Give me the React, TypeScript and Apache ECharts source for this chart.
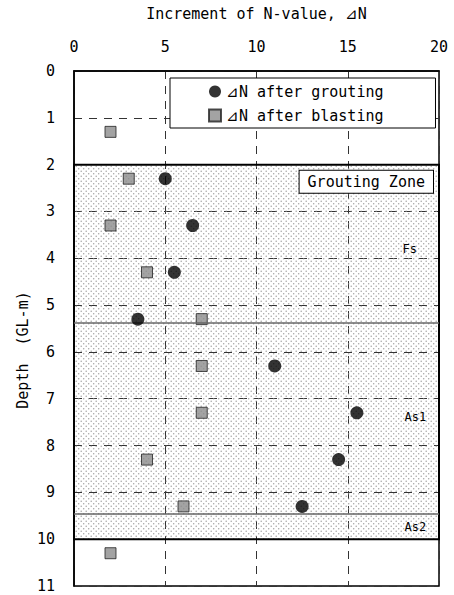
import React, { useEffect, useRef } from "react";
import * as echarts from "echarts";

// ---- data ----
const groutDepths = [2.3, 3.3, 4.3, 5.3, 6.3, 7.3, 8.3, 9.3];
const groutValues = [5, 6.5, 5.5, 3.5, 11, 15.5, 14.5, 12.5];
const blastDepths = [1.3, 2.3, 3.3, 4.3, 5.3, 6.3, 7.3, 8.3, 9.3, 10.3];
const blastValues = [2, 3, 2, 4, 7, 7, 7, 4, 6, 2];
const seriesNames = ["⊿N after grouting", "⊿N after blasting"];
const zoneRange = [2, 10];
const zoneLabel = "Grouting Zone";
const layerBoundaries = [5.38, 9.45];
const layerNames = ["Fs", "As1", "As2"];
const layerLabelDepths = [3.8, 7.4, 9.75];
const layerLabelX = [18.4, 18.7, 18.7];
const xTitle = "Increment of N-value, ⊿N";
const yTitle = "Depth  (GL-m)";
const xMin = 0, xMax = 20, xInterval = 5;
const yMin = 0, yMax = 11, yInterval = 1;

const FONT = "DejaVu Sans Mono";

function makeDotPattern(): HTMLCanvasElement {
  const c = document.createElement("canvas");
  c.width = 5;
  c.height = 5;
  const ctx = c.getContext("2d")!;
  ctx.fillStyle = "rgba(140,140,140,0.8)";
  ctx.beginPath();
  ctx.arc(1.2, 1.2, 0.75, 0, Math.PI * 2);
  ctx.fill();
  ctx.beginPath();
  ctx.arc(3.7, 3.7, 0.75, 0, Math.PI * 2);
  ctx.fill();
  return c;
}

export default function App() {
  const ref = useRef<HTMLDivElement>(null);
  useEffect(() => {
    if (!ref.current) return;
    const chart = echarts.init(ref.current, null, { renderer: "svg" });
    const pattern = makeDotPattern();
    const grout = groutDepths.map((d, i) => [groutValues[i], d]);
    const blast = blastDepths.map((d, i) => [blastValues[i], d]);
    chart.setOption({
      animation: false,
      backgroundColor: "#fff",
      textStyle: { fontFamily: FONT, color: "#000" },
      grid: {
        left: 74,
        right: 15,
        top: 71,
        bottom: 9,
        show: true,
        borderColor: "#000",
        borderWidth: 1.5,
      },
      legend: {
        orient: "vertical",
        left: 170,
        top: 78,
        backgroundColor: "#fff",
        borderColor: "#000",
        borderWidth: 1,
        borderRadius: 0,
        padding: [6, 52, 5, 38],
        itemGap: 9,
        itemWidth: 12,
        itemHeight: 12,
        textStyle: { fontFamily: FONT, fontSize: 15, color: "#000" },
        data: [
          { name: seriesNames[0], icon: "circle" },
          { name: seriesNames[1], icon: "rect" },
        ],
      },
      xAxis: {
        type: "value",
        position: "top",
        min: xMin,
        max: xMax,
        interval: xInterval,
        name: xTitle,
        nameLocation: "middle",
        nameGap: 50,
        nameTextStyle: { fontFamily: FONT, fontSize: 15, color: "#000" },
        axisLine: { show: true, lineStyle: { color: "#000", width: 1.5 } },
        axisTick: { show: false },
        axisLabel: { fontFamily: FONT, fontSize: 15, color: "#000", margin: 17 },
        splitLine: { show: true, lineStyle: { color: "#333", width: 1, type: [8, 7] } },
      },
      yAxis: {
        type: "value",
        inverse: true,
        min: yMin,
        max: yMax,
        interval: yInterval,
        axisLine: { show: true, lineStyle: { color: "#000", width: 1.5 } },
        axisTick: { show: false },
        axisLabel: { fontFamily: FONT, fontSize: 15, color: "#000", margin: 19 },
        splitLine: { show: true, lineStyle: { color: "#333", width: 1, type: [8, 7] } },
      },
      graphic: [
        {
          type: "text",
          x: 23,
          y: 350,
          rotation: Math.PI / 2,
          style: {
            text: yTitle,
            fontFamily: FONT,
            fontSize: 15,
            fill: "#000",
            align: "center",
            verticalAlign: "middle",
          },
        },
      ],
      series: [
        {
          name: seriesNames[0],
          type: "scatter",
          symbol: "circle",
          symbolSize: 13,
          z: 5,
          itemStyle: { color: "#000" },
          data: grout,
          markArea: {
            silent: true,
            z: 1,
            itemStyle: {
              color: { image: pattern, repeat: "repeat" },
              borderColor: "#000",
              borderWidth: 2,
            },
            label: {
              show: true,
              position: "insideTopRight",
              distance: 7,
              formatter: zoneLabel,
              fontFamily: FONT,
              fontSize: 15,
              color: "#000",
              backgroundColor: "#fff",
              borderColor: "#000",
              borderWidth: 1,
              padding: [4, 8, 3, 8],
            },
            data: [[{ coord: [xMin, zoneRange[0]] }, { coord: [xMax, zoneRange[1]] }]],
          },
          markLine: {
            silent: true,
            symbol: "none",
            label: { show: false },
            lineStyle: { color: "#666", width: 1.5, type: "solid" },
            data: layerBoundaries.map((d) => ({ yAxis: d })),
          },
          markPoint: {
            silent: true,
            symbol: "circle",
            symbolSize: 0,
            label: {
              show: true,
              position: "inside",
              fontFamily: FONT,
              fontSize: 12,
              color: "#000",
            },
            data: layerNames.map((n, i) => ({
              coord: [layerLabelX[i], layerLabelDepths[i]],
              label: { formatter: n },
            })),
          },
        },
        {
          name: seriesNames[1],
          type: "scatter",
          symbol: "rect",
          symbolSize: 11,
          z: 4,
          itemStyle: { color: "#8c8c8c", borderColor: "#222", borderWidth: 1 },
          data: blast,
        },
      ],
    });
    return () => chart.dispose();
  }, []);
  return <div ref={ref} style={{ width: 454, height: 595, position: "absolute", left: 0, top: 0 }} />;
}
